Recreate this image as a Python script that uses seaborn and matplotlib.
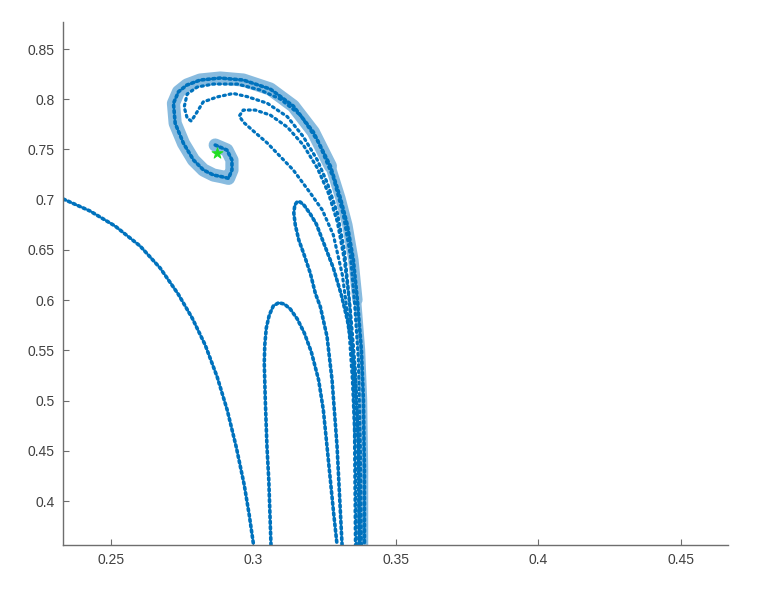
import matplotlib
matplotlib.use("Agg")
import matplotlib.pyplot as plt
import seaborn as sns
from matplotlib.ticker import FormatStrFormatter

# curve readings (data units)
arc_x = [0.23335, 0.24273, 0.25151, 0.26029, 0.26732, 0.27364, 0.27856, 0.28313,
         0.28734, 0.29085, 0.29402, 0.29683, 0.29858, 0.30010]
arc_y = [0.70066, 0.68871, 0.67377, 0.65386, 0.63196, 0.60607, 0.58218, 0.55530,
         0.52344, 0.49058, 0.45375, 0.41591, 0.38604, 0.35616]

low_arch_x = [0.30621, 0.30544, 0.30480, 0.30421, 0.30385, 0.30403, 0.30456, 0.30561,
              0.30701, 0.30888, 0.31088, 0.31299, 0.31545, 0.31791, 0.32037, 0.32293,
              0.32458, 0.32588, 0.32704, 0.32820, 0.32940]
low_arch_y = [0.35616, 0.42089, 0.45404, 0.50054, 0.53737, 0.55530, 0.57222, 0.58517,
              0.59413, 0.59741, 0.59612, 0.59114, 0.58118, 0.56725, 0.54833, 0.52045,
              0.49058, 0.45404, 0.42089, 0.38773, 0.35616]

high_arch_x = [0.33115, 0.32940, 0.32764, 0.32588, 0.32353, 0.32177, 0.32002, 0.31766,
               0.31597, 0.31474, 0.31422, 0.31457, 0.31545, 0.31650, 0.31791, 0.32002,
               0.32212, 0.32458, 0.32810, 0.33091, 0.33301, 0.33477, 0.33582, 0.33688,
               0.33723]
high_arch_y = [0.35616, 0.45404, 0.52045, 0.56356, 0.59343, 0.60677, 0.62668, 0.64660,
               0.65984, 0.67477, 0.68671, 0.69468, 0.69816, 0.69766, 0.69418, 0.68572,
               0.67577, 0.65785, 0.63196, 0.60508, 0.58019, 0.55032, 0.52045, 0.45076,
               0.35616]

band_x = [0.28664, 0.29075, 0.29251, 0.29251, 0.29131, 0.28900, 0.28604, 0.28253,
          0.27902, 0.27550, 0.27259, 0.27199, 0.27375, 0.27670, 0.28137, 0.28840,
          0.29648, 0.30596, 0.31404, 0.32107, 0.32704, 0.33056, 0.33301, 0.33512,
          0.33653, 0.33793, 0.33864, 0.33899, 0.33899]
band_y = [0.75442, 0.74944, 0.73949, 0.72953, 0.72127, 0.72286, 0.72455, 0.72953,
          0.73949, 0.75611, 0.77603, 0.79594, 0.80749, 0.81416, 0.81914, 0.82113,
          0.81914, 0.81018, 0.79325, 0.76736, 0.73351, 0.70165, 0.67477, 0.63993,
          0.60010, 0.55032, 0.50054, 0.43084, 0.35616]

hook_x = [0.33793, 0.33758, 0.33688, 0.33547, 0.33407, 0.33161, 0.32810, 0.32283,
          0.31650, 0.30948, 0.30245, 0.29437, 0.28594, 0.28032, 0.27680, 0.27575,
          0.27680, 0.27821, 0.27961, 0.28242, 0.28734, 0.29296, 0.29788, 0.30491,
          0.31193, 0.31755, 0.32247, 0.32598, 0.32950, 0.33196, 0.33372, 0.33477,
          0.33547, 0.33582]
hook_y = [0.35618, 0.45076, 0.54036, 0.60010, 0.64490, 0.68473, 0.72156, 0.75740,
          0.78429, 0.80022, 0.80918, 0.81515, 0.81515, 0.81216, 0.80519, 0.79225,
          0.78130, 0.77831, 0.78429, 0.79733, 0.80231, 0.80579, 0.80261, 0.79603,
          0.78269, 0.76278, 0.73948, 0.71658, 0.68671, 0.64988, 0.60010, 0.55032,
          0.48063, 0.35618]

tongue_x = [0.33617, 0.33582, 0.33477, 0.33336, 0.33126, 0.32810, 0.32423, 0.32002,
            0.31404, 0.30491, 0.29964, 0.29648, 0.29507, 0.29648, 0.30069, 0.30596,
            0.31193, 0.31755, 0.32247, 0.32634, 0.32950, 0.33196, 0.33407, 0.33582,
            0.33688, 0.33723]
tongue_y = [0.35618, 0.45076, 0.52045, 0.58019, 0.62499, 0.66481, 0.68970, 0.70663,
            0.72953, 0.75641, 0.76935, 0.77732, 0.78329, 0.78926, 0.78926, 0.78429,
            0.77234, 0.75442, 0.73152, 0.70663, 0.67776, 0.63992, 0.59014, 0.53041,
            0.46072, 0.35618]

star_x = [0.28724]
star_y = [0.74616]

x_ticks = [0.25, 0.3, 0.35, 0.4, 0.45]
y_ticks = [0.4, 0.45, 0.5, 0.55, 0.6, 0.65, 0.7, 0.75, 0.8, 0.85]

sns.set_style("ticks")
plt.rcParams["font.family"] = ["Liberation Sans", "DejaVu Sans"]

blue = "#0072BD"
light = "#88BBDF"
grey = "#6e6e6e"

fig = plt.figure(figsize=(7.68, 5.97), dpi=100)
ax = fig.add_axes([0.0824, 0.0871, 0.8659, 0.8760])

# light band behind the outer spiral: wide at the top, narrower lower down
band_parts = [(slice(0, 21), 9.5), (slice(19, 25), 7.5), (slice(23, None), 5.5)]
for part, width in band_parts:
    sns.lineplot(x=band_x[part], y=band_y[part], sort=False, estimator=None, ax=ax,
                 color=light, lw=width, solid_capstyle="round")

dotted = dict(sort=False, estimator=None, ax=ax, color=blue, lw=2.6,
              linestyle=(0, (0.6, 0.9)), dash_capstyle="round")
for xs, ys in [(arc_x, arc_y), (low_arch_x, low_arch_y), (high_arch_x, high_arch_y),
               (band_x, band_y)]:
    sns.lineplot(x=xs, y=ys, **dotted)

sparse = dict(sort=False, estimator=None, ax=ax, color=blue, lw=2.3,
              linestyle=(0, (0.6, 1.2)), dash_capstyle="round")
for xs, ys in [(hook_x, hook_y), (tongue_x, tongue_y)]:
    sns.lineplot(x=xs, y=ys, **sparse)

sns.scatterplot(x=star_x, y=star_y, ax=ax, marker="*", s=70, color="#22dd22",
                edgecolor="#22dd22", linewidth=0.6, zorder=5)

ax.set_xlim(0.23333, 0.46667)
ax.set_ylim(0.3562, 0.8769)
ax.set_xticks(x_ticks)
ax.set_yticks(y_ticks)
ax.xaxis.set_major_formatter(FormatStrFormatter("%g"))
ax.yaxis.set_major_formatter(FormatStrFormatter("%g"))
ax.tick_params(direction="in", length=4, width=0.8, color=grey,
               labelsize=10, labelcolor="#404040", pad=6)
sns.despine(ax=ax)
for side in ["left", "bottom"]:
    ax.spines[side].set_color(grey)
    ax.spines[side].set_linewidth(1.0)

fig.savefig("out.png", dpi=100)
